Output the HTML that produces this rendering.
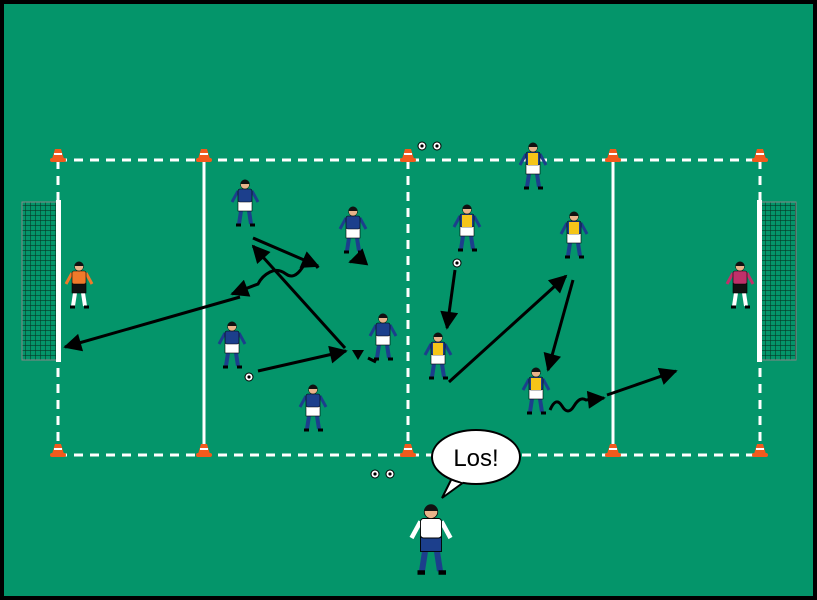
<!DOCTYPE html>
<html><head><meta charset="utf-8"><style>
html,body{margin:0;padding:0;background:#000}
svg{display:block}
</style></head><body>
<svg id="s" width="817" height="600" viewBox="0 0 817 600" xmlns="http://www.w3.org/2000/svg">
<defs>
<marker id="ah" viewBox="0 0 10 10" refX="9" refY="5" markerWidth="6.5" markerHeight="6" orient="auto" markerUnits="strokeWidth">
<path d="M0,0 L10,5 L0,10 z" fill="#000"/></marker>
<pattern id="net" width="5" height="5" patternUnits="userSpaceOnUse"><path d="M0,0 H5 M0,0 V5" stroke="#063826" stroke-width="1.2" fill="none"/></pattern>
</defs>
<rect x="0" y="0" width="817" height="600" fill="#000"/>
<rect x="4" y="4" width="809" height="592" fill="#04956a"/>
<!-- goals -->
<rect x="22" y="202" width="36" height="158" fill="url(#net)" stroke="#888" stroke-width="1"/>
<rect x="760" y="202" width="36" height="158" fill="url(#net)" stroke="#888" stroke-width="1"/>
<rect x="56" y="200" width="5" height="162" fill="#fff"/>
<rect x="757" y="200" width="5" height="162" fill="#fff"/>
<!-- field lines -->
<g stroke="#fff" stroke-width="3" fill="none">
<path d="M58,160 H760 M58,455 H760" stroke-dasharray="9,7"/>
<path d="M58,160 V455 M760,160 V455 M408,160 V455" stroke-dasharray="9,7"/>
<path d="M204,160 V455 M613,160 V455"/>
</g>
<g id="cones"></g>
<!-- arrows -->
<g stroke="#000" stroke-width="3" fill="none" marker-end="url(#ah)">
<path d="M253,238 L318,266"/>
<path d="M345,348 L253,246"/>
<path d="M318,268 q-8,-12 -16,0 t-16,6 t-16,-2 t-12,12 l-26,10"/>
<path d="M240,297 L65,347"/>
<path d="M258,371 L346,351"/>
<path d="M455,270 L447,328"/>
<path d="M449,382 L566,276"/>
<path d="M573,280 L548,370"/>
<path d="M550,410 q6,-14 12,-4 t12,0 t12,-6 l18,-2"/>
<path d="M607,395 L676,371"/>
<path d="M362,258 L350,262"/>
</g>
<path d="M352,350 L364,350 L358,360 z" fill="#000"/>
<path d="M368,358 L376,362" stroke="#000" stroke-width="3"/>
<g id="pl"></g>
<!-- speech bubble -->
<path d="M452,478 L442,498 L464,482" fill="#fff" stroke="#000" stroke-width="2"/>
<ellipse cx="476" cy="457" rx="44" ry="27" fill="#fff" stroke="#000" stroke-width="2"/>
<path d="M453,477 L463,481" stroke="#fff" stroke-width="3"/>
<text x="476" y="466" text-anchor="middle" font-family="Liberation Sans, sans-serif" font-size="24" fill="#000">Los!</text>
</svg>
<script>
const NS="http://www.w3.org/2000/svg";
function add(p,tag,a){const e=document.createElementNS(NS,tag);for(const k in a)e.setAttribute(k,a[k]);p.appendChild(e);return e;}
const cg=document.getElementById('cones');
[58,204,408,613,760].forEach(x=>[160,455].forEach(y=>{
 add(cg,'path',{d:`M${x-3},${y-11} L${x+3},${y-11} L${x+6},${y-1} L${x-6},${y-1}z`,fill:'#f25a1d'});
 add(cg,'rect',{x:x-8,y:y-2,width:16,height:4,rx:2,fill:'#f25a1d'});
 add(cg,'path',{d:`M${x-4},${y-6} L${x+4},${y-6}`,stroke:'#fff','stroke-width':2});
}));
const pg=document.getElementById('pl');
function ball(x,y){add(pg,'circle',{cx:x,cy:y,r:4,fill:'#fff',stroke:'#000','stroke-width':1});add(pg,'circle',{cx:x,cy:y,r:1.6,fill:'#000'});}
function player(x,y,shirt,shorts,socks,vest,s){
 s=s||1;const g=add(pg,'g',{transform:`translate(${x},${y}) scale(${s})`});
 add(g,'path',{d:'M-4,31 L-6,44 M4,31 L6,44',stroke:socks,'stroke-width':4});
 add(g,'path',{d:'M-9,45 h5 M5,45 h5',stroke:'#000','stroke-width':3});
 add(g,'path',{d:'M-7,11 L-13,22 M7,11 L13,22',stroke:shirt,'stroke-width':3});
 add(g,'rect',{x:-7,y:21,width:14,height:10,fill:shorts,stroke:'#000','stroke-width':0.6});
 add(g,'rect',{x:-7,y:9,width:14,height:13,rx:2,fill:shirt,stroke:'#000','stroke-width':0.6});
 if(vest)add(g,'rect',{x:-5,y:10,width:10,height:12,fill:vest});
 add(g,'circle',{cx:0,cy:4.5,r:4.5,fill:'#e8b48a',stroke:'#000','stroke-width':0.5});
 add(g,'path',{d:'M-4.5,4 a4.5,4.5 0 0 1 9,0z',fill:'#111'});
}
const B='#1c3f8c';
[[245,180],[353,207],[232,322],[383,314],[313,385]].forEach(p=>player(p[0],p[1],B,'#fff',B));
[[533,143],[467,205],[574,212],[438,333],[536,368]].forEach(p=>player(p[0],p[1],B,'#fff',B,'#f5c518'));
player(79,262,'#f07a2a','#111','#fff');
player(740,262,'#c0306a','#111','#fff');
player(431,505,'#fff',B,B,null,1.5);
[[422,146],[437,146],[375,474],[390,474],[249,377],[457,263]].forEach(b=>ball(b[0],b[1]));
</script>
</body></html>
